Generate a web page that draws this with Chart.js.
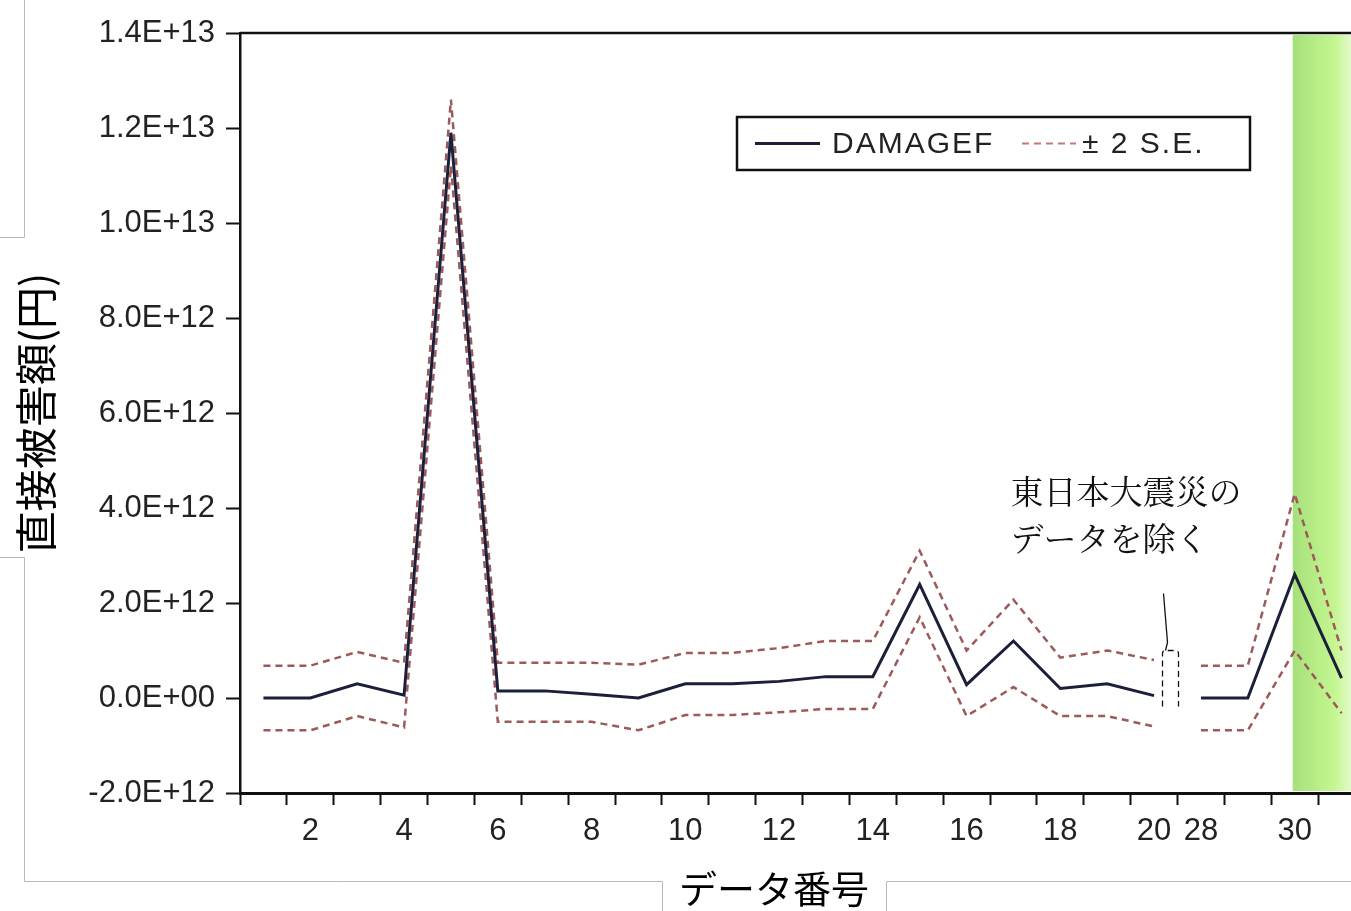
<!DOCTYPE html>
<html lang="ja">
<head>
<meta charset="utf-8">
<title>直接被害額</title>
<script src="https://cdn.jsdelivr.net/npm/chart.js@4.4.1/dist/chart.umd.min.js"></script>
<style>
  html, body { margin: 0; padding: 0; background: #fff; overflow: hidden; }
  #wrap { position: relative; width: 1370px; height: 911px; }
</style>
</head>
<body>
<div id="wrap"><canvas id="myChart" width="1370" height="911"></canvas></div>
<script>
// データ番号 (20の次は東日本大震災を除いて28へ)
const categories = ['1','2','3','4','5','6','7','8','9','10',
                    '11','12','13','14','15','16','17','18','19','20',
                    '28','29','30','31'];
const xTickLabels = ['','2','','4','','6','','8','','10',
                     '','12','','14','','16','','18','','20',
                     '28','','30',''];

// DAMAGEF (円)
const damagef = [0, 0, 0.3e12, 0.06e12, 1.19e13, 0.15e12, 0.15e12, 0.08e12, 0, 0.3e12,
                 0.3e12, 0.35e12, 0.45e12, 0.45e12, 2.39e12, 0.28e12, 1.2e12, 0.2e12, 0.3e12, 0.05e12,
                 0, 0, 2.6e12, 0.42e12];
// ± 2 S.E.
const upperSE = [0.68e12, 0.68e12, 0.97e12, 0.74e12, 1.26e13, 0.74e12, 0.74e12, 0.74e12, 0.7e12, 0.95e12,
                 0.95e12, 1.05e12, 1.2e12, 1.2e12, 3.1e12, 1.0e12, 2.07e12, 0.85e12, 1.0e12, 0.8e12,
                 0.68e12, 0.68e12, 4.3e12, 1.0e12];
const lowerSE = [-0.68e12, -0.68e12, -0.38e12, -0.62e12, 1.12e13, -0.5e12, -0.5e12, -0.5e12, -0.68e12, -0.36e12,
                 -0.36e12, -0.3e12, -0.23e12, -0.23e12, 1.7e12, -0.38e12, 0.23e12, -0.38e12, -0.38e12, -0.6e12,
                 -0.68e12, -0.68e12, 1.0e12, -0.32e12];

const yTicks = [-2e12, 0, 2e12, 4e12, 6e12, 8e12, 1e13, 1.2e13, 1.4e13];
const yTickLabels = ['-2.0E+12','0.0E+00','2.0E+12','4.0E+12','6.0E+12','8.0E+12','1.0E+13','1.2E+13','1.4E+13'];

const gapAfter = 19; // 20 -> 28 は線をつながない
const gapSegment = { borderColor: c => c.p0DataIndex === gapAfter ? 'rgba(0,0,0,0)' : undefined };

const lineColor = '#1c1f3a';
const seColor = '#9c5a5a';
const tickFont = { family: '"Liberation Sans", Arial, sans-serif', size: 31 };

const decor = {
  id: 'decor',
  beforeDatasetsDraw(chart) {
    const { ctx, chartArea: a, scales: { x } } = chart;
    // 緑の帯 (30以降)
    const x0 = x.getPixelForValue(22) - 2;
    const g = ctx.createLinearGradient(x0, 0, x0 + 60, 0);
    g.addColorStop(0, '#a6e07a');
    g.addColorStop(0.7, '#c4f690');
    g.addColorStop(1, '#e6fbd2');
    ctx.save();
    ctx.fillStyle = g;
    ctx.fillRect(x0, a.top + 2, a.right - x0, a.bottom - a.top - 4);
    ctx.restore();
  },
  afterDraw(chart) {
    const { ctx, chartArea: a, scales: { x, y } } = chart;
    ctx.save();
    // 枠の上辺と右辺
    ctx.strokeStyle = '#111';
    ctx.lineWidth = 2.5;
    ctx.beginPath();
    ctx.moveTo(a.left, a.top);
    ctx.lineTo(a.right, a.top);
    ctx.lineTo(a.right, a.bottom);
    ctx.stroke();

    // 凡例
    const lx = 737, ly = 117, lw = 513, lh = 53, cy = ly + lh / 2;
    ctx.fillStyle = '#fff';
    ctx.fillRect(lx, ly, lw, lh);
    ctx.strokeStyle = '#111';
    ctx.lineWidth = 2.5;
    ctx.strokeRect(lx, ly, lw, lh);
    ctx.font = '30px "Liberation Sans", Arial, sans-serif';
    ctx.letterSpacing = '2px';
    ctx.textBaseline = 'middle';
    ctx.textAlign = 'left';
    const ds = chart.data.datasets;
    ctx.strokeStyle = ds[0].borderColor;
    ctx.lineWidth = ds[0].borderWidth;
    ctx.beginPath(); ctx.moveTo(755, cy); ctx.lineTo(820, cy); ctx.stroke();
    ctx.fillStyle = '#222';
    ctx.fillText(ds[0].label, 832, cy + 1);
    ctx.strokeStyle = '#c07a7a';
    ctx.lineWidth = 2;
    ctx.setLineDash([7, 5]);
    ctx.beginPath(); ctx.moveTo(1022, cy); ctx.lineTo(1076, cy); ctx.stroke();
    ctx.setLineDash([]);
    ctx.fillText(ds[1].label, 1082, cy + 1);
    ctx.letterSpacing = '0px';

    // 注記
    const xg = (x.getPixelForValue(gapAfter) + x.getPixelForValue(gapAfter + 1)) / 2;
    ctx.font = '33px "Noto Serif CJK JP", "Noto Sans CJK JP", serif';
    ctx.fillStyle = '#111';
    ctx.fillText('東日本大震災の', xg - 167, y.getPixelForValue(4.35e12));
    ctx.fillText('データを除く', xg - 167, y.getPixelForValue(3.35e12));
    ctx.strokeStyle = '#111';
    ctx.lineWidth = 1.3;
    const yTop = y.getPixelForValue(1.0e12), yBot = y.getPixelForValue(-0.18e12);
    ctx.beginPath();
    ctx.moveTo(xg - 14, y.getPixelForValue(2.2e12));
    ctx.lineTo(xg - 10, yTop - 8);
    ctx.lineTo(xg - 12, yTop);
    ctx.stroke();
    ctx.setLineDash([6, 4]);
    ctx.beginPath();
    ctx.moveTo(xg - 15, yBot);
    ctx.lineTo(xg - 15, yTop + 3);
    ctx.quadraticCurveTo(xg - 15, yTop, xg - 12, yTop);
    ctx.lineTo(xg - 2, yTop);
    ctx.quadraticCurveTo(xg + 1, yTop, xg + 1, yTop + 3);
    ctx.lineTo(xg + 1, yBot);
    ctx.stroke();
    ctx.setLineDash([]);

    // 外側の枠線
    ctx.strokeStyle = '#b8b8b8';
    ctx.lineWidth = 1;
    ctx.beginPath();
    ctx.moveTo(24.5, 0); ctx.lineTo(24.5, 237.5); ctx.lineTo(0, 237.5);
    ctx.moveTo(0, 557.5); ctx.lineTo(24.5, 557.5); ctx.lineTo(24.5, 881.5);
    ctx.lineTo(662.5, 881.5); ctx.lineTo(662.5, 911);
    ctx.moveTo(886.5, 911); ctx.lineTo(886.5, 881.5); ctx.lineTo(1370, 881.5);
    ctx.stroke();

    // 横軸タイトル
    ctx.font = '38px "Noto Sans CJK JP", sans-serif';
    ctx.fillStyle = '#000';
    ctx.textAlign = 'center';
    ctx.fillText('データ番号', 774, 889);
    ctx.restore();
  }
};

const ctx = document.getElementById('myChart').getContext('2d');
const chart = new Chart(ctx, {
  type: 'line',
  data: {
    labels: categories,
    datasets: [
      { label: 'DAMAGEF', data: damagef, borderColor: lineColor, borderWidth: 3, segment: gapSegment },
      { label: '± 2 S.E.', data: upperSE, borderColor: seColor, borderWidth: 2.5, borderDash: [7, 5], segment: gapSegment },
      { label: '± 2 S.E.', data: lowerSE, borderColor: seColor, borderWidth: 2.5, borderDash: [7, 5], segment: gapSegment }
    ]
  },
  options: {
    responsive: false,
    animation: false,
    elements: { point: { radius: 0 }, line: { tension: 0 } },
    layout: { padding: { top: 33, right: 5, left: 0, bottom: 0 } },
    plugins: { legend: { display: false }, title: { display: false }, tooltip: { enabled: false } },
    scales: {
      x: {
        type: 'category',
        offset: true,
        afterFit: s => { s.height = 118; },
        ticks: { autoSkip: false, maxRotation: 0, callback: (v, i) => xTickLabels[i], font: tickFont, color: '#222', padding: 8 },
        grid: { offset: true, drawOnChartArea: false, tickLength: 12, tickColor: '#111', tickWidth: 2 },
        border: { color: '#111', width: 3 }
      },
      y: {
        min: -2e12,
        max: 1.4e13,
        afterFit: s => { s.width = 240; },
        afterBuildTicks: s => { s.ticks = yTicks.map(v => ({ value: v })); },
        ticks: { callback: (v, i) => yTickLabels[i], font: tickFont, color: '#222', padding: 11 },
        grid: { drawOnChartArea: false, tickLength: 14, tickColor: '#111', tickWidth: 2 },
        border: { color: '#111', width: 2.5 },
        title: { display: true, text: '直接被害額(円)', color: '#000',
                 font: { family: '"Noto Sans CJK JP", sans-serif', size: 42 }, padding: { top: 11, bottom: 0 } }
      }
    }
  },
  plugins: [decor]
});
</script>
</body>
</html>
